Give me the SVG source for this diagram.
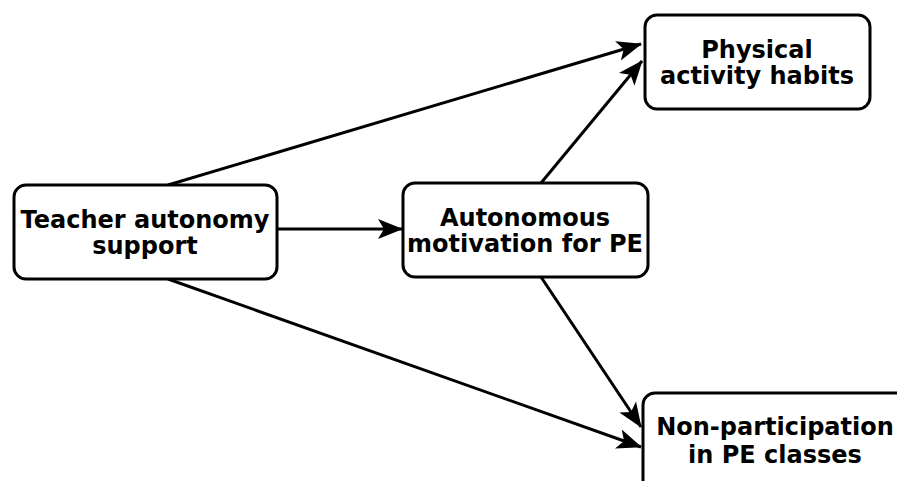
<svg xmlns="http://www.w3.org/2000/svg" width="897" height="481" viewBox="0 0 897 481">
<style>
.box{fill:#fff;stroke:#000;stroke-width:3}
.t{font-family:"DejaVu Sans",sans-serif;font-weight:bold;font-size:24px;text-anchor:middle;fill:#000}
.c{stroke:#000;stroke-width:3;fill:none}
</style>
<defs>
<marker id="ah" markerUnits="userSpaceOnUse" markerWidth="26" markerHeight="22" viewBox="0 0 26 22" refX="24" refY="11" orient="auto">
<path d="M0,1 L25,11 L0,21 L6,11 z" fill="#000"/>
</marker>
</defs>
<rect width="897" height="481" fill="#fff"/>
<g id="connectors">
<line class="c" x1="168" y1="185" x2="641" y2="44" marker-end="url(#ah)"/>
<line class="c" x1="277" y1="229" x2="402" y2="229" marker-end="url(#ah)"/>
<line class="c" x1="168" y1="279" x2="641" y2="447" marker-end="url(#ah)"/>
<line class="c" x1="541" y1="183" x2="642" y2="61" marker-end="url(#ah)"/>
<line class="c" x1="541" y1="277" x2="641" y2="427" marker-end="url(#ah)"/>
</g>
<g id="teacher">
<rect class="box" x="14" y="185" width="263" height="94" rx="12"/>
<text class="t" x="145" y="228">Teacher autonomy</text>
<text class="t" x="145" y="254">support</text>
</g>
<g id="autonomous">
<rect class="box" x="403" y="183" width="245" height="94" rx="12"/>
<text class="t" x="525" y="226">Autonomous</text>
<text class="t" x="525" y="252">motivation for PE</text>
</g>
<g id="physical">
<rect class="box" x="645" y="15" width="225" height="94" rx="12"/>
<text class="t" x="757" y="58">Physical</text>
<text class="t" x="757" y="84">activity habits</text>
</g>
<g id="nonparticipation">
<rect class="box" x="643" y="393" width="270" height="110" rx="12"/>
<text class="t" x="775" y="435">Non-participation</text>
<text class="t" x="775" y="463">in PE classes</text>
</g>
</svg>
